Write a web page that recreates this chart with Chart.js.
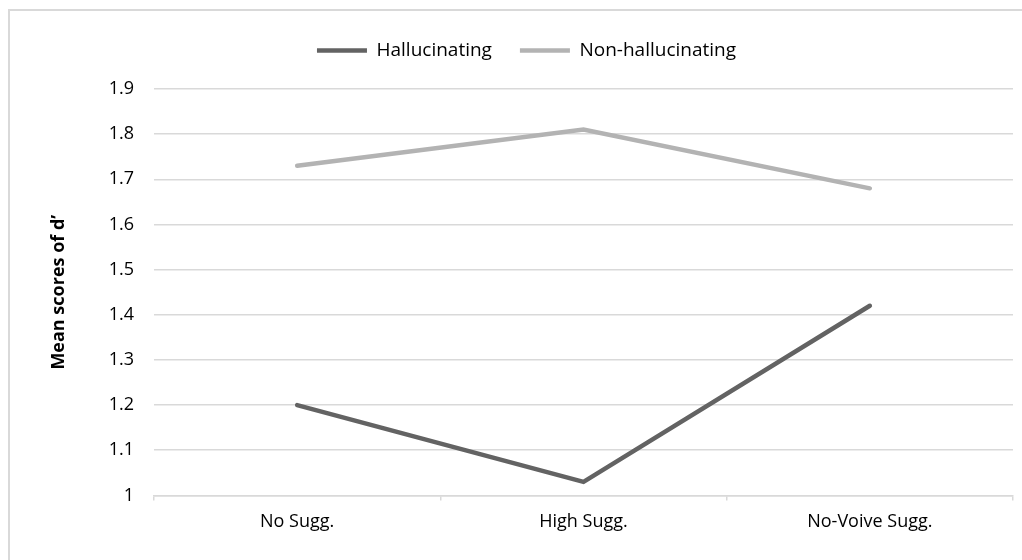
<!DOCTYPE html>
<html>
<head>
<meta charset="utf-8">
<script src="https://cdn.jsdelivr.net/npm/chart.js@4"></script>
<style>
  html, body { margin: 0; padding: 0; background: #fff; }
  #wrap { position: relative; width: 1022px; height: 560px; overflow: hidden; }
  /* frame of the chart, only the left and top edges show in the picture */
  #frame { position: absolute; left: 8px; top: 9px; width: 1100px; height: 700px;
           border-left: 2px solid #d9d9d9; border-top: 2px solid #d9d9d9; }
  canvas { position: absolute; left: 0; top: 0; }
</style>
</head>
<body>
<div id="wrap">
  <div id="frame"></div>
  <canvas id="dChart" width="1022" height="560"></canvas>
</div>
<script>
// categorias e médias de d'
const categories = ['No Sugg.', 'High Sugg.', 'No-Voive Sugg.'];
const hallucinating = [1.20, 1.03, 1.42];
const nonHallucinating = [1.73, 1.81, 1.68];
const yTicks = [1, 1.1, 1.2, 1.3, 1.4, 1.5, 1.6, 1.7, 1.8, 1.9];

const fontFamily = '"Open Sans", sans-serif';
const gridColor = '#d9d9d9';

// espaço extra abaixo da legenda
const legendGap = {
  id: 'legendGap',
  beforeInit(chart) {
    const fit = chart.legend.fit;
    chart.legend.fit = function () {
      fit.bind(chart.legend)();
      this.height += 19;
    };
  }
};

const data = {
  labels: categories,
  datasets: [{
    label: 'Hallucinating',
    data: hallucinating,
    borderColor: '#636363',
    backgroundColor: '#636363',
    borderWidth: 4.5,
    borderCapStyle: 'round',
    pointRadius: 0,
    tension: 0
  }, {
    label: 'Non-hallucinating',
    data: nonHallucinating,
    borderColor: '#b3b3b3',
    backgroundColor: '#b3b3b3',
    borderWidth: 4.5,
    borderCapStyle: 'round',
    pointRadius: 0,
    tension: 0
  }]
};

const config = {
  type: 'line',
  data: data,
  plugins: [legendGap],
  options: {
    responsive: false,
    animation: false,
    layout: { padding: { left: 40, right: 9, top: 13, bottom: 16 } },
    plugins: {
      tooltip: { enabled: false },
      legend: {
        position: 'top',
        labels: {
          usePointStyle: true,
          pointStyle: 'line',
          pointStyleWidth: 50,
          color: '#000',
          font: { family: fontFamily, size: 19 },
          padding: 28
        }
      }
    },
    scales: {
      x: {
        offset: true,
        grid: {
          offset: true,
          drawOnChartArea: false,
          color: gridColor,
          lineWidth: 1.5,
          tickLength: 5
        },
        border: { color: gridColor, width: 1.5 },
        ticks: { color: '#000', font: { family: fontFamily, size: 18 }, padding: 11 }
      },
      y: {
        min: 1,
        max: 1.9,
        afterBuildTicks: (scale) => { scale.ticks = yTicks.map(v => ({ value: v })); },
        afterFit: (scale) => { scale.width = 114; },
        grid: { color: gridColor, lineWidth: 1.5, drawTicks: false },
        border: { display: false },
        ticks: {
          color: '#000',
          font: { family: fontFamily, size: 18 },
          padding: 20,
          callback: (v) => String(Math.round(v * 10) / 10)
        },
        title: {
          display: true,
          text: 'Mean scores of d’',
          color: '#000',
          font: { family: fontFamily, size: 18, weight: 'bold' },
          padding: { top: 8, bottom: 0 }
        }
      }
    }
  }
};

// Criando o gráfico
const ctx = document.getElementById('dChart').getContext('2d');
const dChart = new Chart(ctx, config);
</script>
</body>
</html>
